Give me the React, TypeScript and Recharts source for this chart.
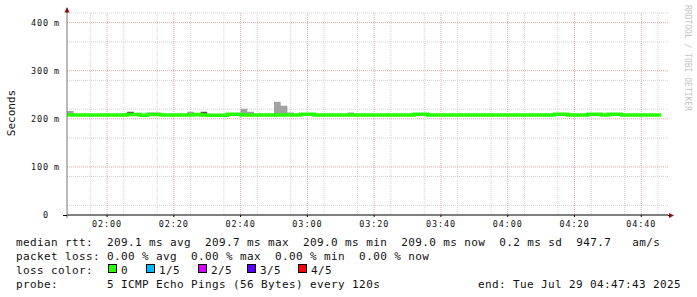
import { Area, CartesianGrid, ComposedChart, Line, XAxis, YAxis } from "recharts";

// rrd steps: 120 s each, first step starts 01:48 (minutes since midnight)
const stepStartMin = 108;
const stepMin = 2;

// median rtt per step (ms)
const medianMs = [
  208, 208, 208, 208, 208, 208, 208, 208, 208, 209,
  209, 207.4, 209, 209, 208, 208, 208, 208, 208, 209,
  208, 207.4, 207.4, 207.4, 209.4, 209.4, 208, 208, 208, 208,
  208, 208, 208, 208, 208, 209.4, 209.4, 208, 208, 208,
  208, 208, 208, 208, 208, 208, 208, 208, 208, 208,
  208, 208, 209.4, 209.4, 208, 208, 208, 208, 208, 208,
  208, 208, 208, 208, 208, 208, 208, 208, 208, 208,
  208, 208, 208, 209.4, 209.4, 208, 208, 208, 209.4, 209.4,
  208, 209.4, 209.4, 208, 208, 208, 208, 208, 208,
];

// [step index, highest ping ms] where the smoke shows above the median band
const smokeLight = [
  [0, 216], [12, 213], [13, 213], [18, 214.6], [26, 220.8],
  [27, 214.6], [31, 235.4], [32, 227.1], [33, 213], [42, 213],
];
const smokeDark = [[9, 214.6], [20, 214.6]];
const smokeFloor = 206;

const xTicks = [120, 140, 160, 180, 200, 220, 240, 260, 280];
const xTickLabels = ["02:00", "02:20", "02:40", "03:00", "03:20", "03:40", "04:00", "04:20", "04:40"];
const yTicks = [0, 100, 200, 300, 400];
const yTickLabels = ["0", "100 m", "200 m", "300 m", "400 m"];

const xDomain = [108, 288];
const yDomain = [0, 420];

const minorX: number[] = [];
for (let m = 110; m < 288; m += 5) if (!xTicks.includes(m)) minorX.push(m);
const minorY: number[] = [];
for (let v = 20; v <= 420; v += 20) if (!yTicks.includes(v)) minorY.push(v);

const lossColors = [
  { label: "0", color: "#26ff00", x: 108 },
  { label: "1/5", color: "#00b8ff", x: 146 },
  { label: "2/5", color: "#d400ff", x: 198 },
  { label: "3/5", color: "#5e00ff", x: 247 },
  { label: "4/5", color: "#ff0000", x: 298 },
];

const legendLines = [
  "median rtt:  209.1 ms avg  209.7 ms max  209.0 ms min  209.0 ms now  0.2 ms sd  947.7   am/s",
  "packet loss: 0.00 % avg  0.00 % max  0.00 % min  0.00 % now",
  "loss color:",
  "probe:       5 ICMP Echo Pings (56 Bytes) every 120s",
];
const endLabel = "end: Tue Jul 29 04:47:43 2025";

const lookup = (list: number[][], i: number) => {
  const hit = list.find((p) => p[0] === i);
  return hit ? hit[1] : smokeFloor;
};

// one extra closing row so the last step is drawn to its end
const rows = Array.from({ length: medianMs.length + 1 }, (_, i) => {
  const k = Math.min(i, medianMs.length - 1);
  return {
    t: stepStartMin + i * stepMin,
    median: medianMs[k],
    light: [smokeFloor, lookup(smokeLight, k)],
    dark: [smokeFloor, lookup(smokeDark, k)],
  };
});

const MONO = '"DejaVu Sans Mono", monospace';

function XTick(props: any) {
  const { x, y, payload } = props;
  const label = xTickLabels[xTicks.indexOf(payload.value)];
  return (
    <text x={x} y={y} dy="0.71em" textAnchor="middle" fontFamily={MONO} fontSize={8.5} letterSpacing={0.9} fill="#111">
      {label}
    </text>
  );
}

function YTick(props: any) {
  const { y, payload } = props;
  const label = yTickLabels[yTicks.indexOf(payload.value)] ?? "";
  const [num, unit] = label.split(" ");
  return (
    <g fontFamily={MONO} fontSize={8.5} letterSpacing={0.9} fill="#111">
      <text x={49} y={y} dy="0.36em" textAnchor="end">{num}</text>
      {unit ? <text x={54} y={y} dy="0.36em">{unit}</text> : null}
    </g>
  );
}

export default function App() {
  return (
    <div style={{ position: "fixed", left: 0, top: 0, width: 697, height: 297, background: "#fff" }}>
      <ComposedChart width={697} height={297} data={rows} margin={{ top: 13, right: 29, bottom: 62, left: 0 }}>
        <CartesianGrid horizontalValues={minorY} verticalValues={minorX} stroke="#d2d2d2" strokeDasharray="1 1" />
        <CartesianGrid horizontalValues={yTicks.slice(1)} verticalValues={xTicks} stroke="#e6a9a9" strokeDasharray="1 1" />
        <XAxis
          dataKey="t"
          type="number"
          domain={xDomain}
          ticks={xTicks}
          allowDataOverflow
          height={20}
          axisLine={{ stroke: "#000" }}
          tickLine={{ stroke: "#000" }}
          tickSize={2}
          tickMargin={4}
          tick={<XTick />}
        />
        <YAxis
          type="number"
          domain={yDomain}
          ticks={yTicks}
          allowDataOverflow
          width={67}
          axisLine={{ stroke: "#777" }}
          tickLine={false}
          tickSize={0}
          tickMargin={7}
          tick={<YTick />}
        />
        <Area dataKey="light" type="stepAfter" fill="#a2a2a2" fillOpacity={1} stroke="none" isAnimationActive={false} />
        <Area dataKey="dark" type="stepAfter" fill="#575757" fillOpacity={1} stroke="none" isAnimationActive={false} />
        <Line
          dataKey="median"
          type="stepAfter"
          stroke="#26ff00"
          strokeWidth={3.6}
          strokeLinejoin="miter"
          dot={false}
          activeDot={false}
          isAnimationActive={false}
        />
      </ComposedChart>

      <svg width={697} height={297} style={{ position: "absolute", left: 0, top: 0, pointerEvents: "none" }}>
        {/* axis extensions and arrows */}
        <line x1={67} y1={8} x2={67} y2={13} stroke="#777" />
        <line x1={67} y1={215} x2={67} y2={218} stroke="#777" />
        <line x1={63} y1={215.5} x2={67} y2={215.5} stroke="#000" />
        <line x1={668} y1={215.5} x2={670} y2={215.5} stroke="#000" />
        <polygon points="67,7 64.5,12.5 69.5,12.5" fill="#8b1010" />
        <polygon points="674,215.5 669,213 669,218" fill="#8b1010" />

        <text transform="translate(15,113) rotate(-90)" textAnchor="middle" fontFamily={MONO} fontSize={11} fill="#111">
          Seconds
        </text>
        <text transform="translate(685,5) rotate(90)" fontFamily={MONO} fontSize={8} fill="#c4c4c4">
          RRDTOOL / TOBI OETIKER
        </text>

        <g fontFamily={MONO} fontSize={11} letterSpacing={0.38} fill="#111" style={{ whiteSpace: "pre" }}>
          {legendLines.map((line, i) => (
            <text key={i} x={16} y={245.5 + i * 14} xmlSpace="preserve">
              {line}
            </text>
          ))}
          <text x={478} y={287.5}>{endLabel}</text>
          {lossColors.map((c) => (
            <g key={c.label}>
              <rect x={c.x + 0.5} y={264.5} width={8} height={8} fill={c.color} stroke="#000" />
              <text x={c.x + 13} y={273.5}>{c.label}</text>
            </g>
          ))}
        </g>
      </svg>
    </div>
  );
}
